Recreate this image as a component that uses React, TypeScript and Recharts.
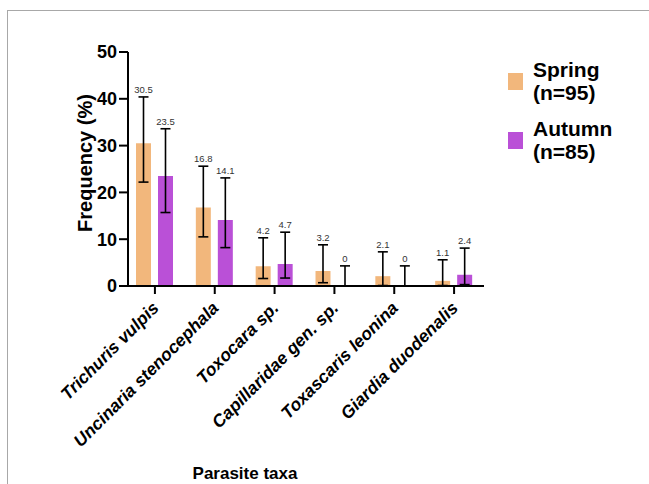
import React from "react";
import { BarChart, Bar, XAxis, YAxis, ErrorBar, LabelList } from "recharts";

const taxa = [
  "Trichuris vulpis",
  "Uncinaria stenocephala",
  "Toxocara sp.",
  "Capillaridae gen. sp.",
  "Toxascaris leonina",
  "Giardia duodenalis",
];

// prevalence (%) with 95% CI bounds
const springMean = [30.5, 16.8, 4.2, 3.2, 2.1, 1.1];
const springLow = [22.2, 10.5, 1.6, 0.7, 0.1, 0.1];
const springHigh = [40.4, 25.6, 10.3, 8.8, 7.3, 5.6];

const autumnMean = [23.5, 14.1, 4.7, 0, 0, 2.4];
const autumnLow = [15.7, 8.2, 1.7, 0, 0, 0.3];
const autumnHigh = [33.6, 23.1, 11.5, 4.3, 4.3, 8.1];

const yTicks = [0, 10, 20, 30, 40, 50];

const seriesNames = ["Spring", "Autumn"];
const seriesN = ["(n=95)", "(n=85)"];
const seriesColors = ["#F2B77C", "#BA50D7"];

const FONT = '"Liberation Sans", Arial, sans-serif';

// the invisible "pad" bar runs from the mean up to the upper CI bound;
// the error bar hangs from its top down to the lower bound
const data = taxa.map((name, i) => ({
  name,
  springMean: springMean[i],
  springPad: springHigh[i] - springMean[i],
  springErr: [springHigh[i] - springLow[i], 0],
  autumnMean: autumnMean[i],
  autumnPad: autumnHigh[i] - autumnMean[i],
  autumnErr: [autumnHigh[i] - autumnLow[i], 0],
}));

function TaxonTick(props: any) {
  const { x, y, payload } = props;
  const px = x + 5;
  const py = y + 13;
  return (
    <text
      x={px}
      y={py}
      textAnchor="end"
      transform={`rotate(-45, ${px}, ${py})`}
      fontFamily={FONT}
      fontSize={17.5}
      fontWeight="bold"
      fontStyle="italic"
      fill="#000"
    >
      {payload.value}
    </text>
  );
}

const axisLine = { stroke: "#000", strokeWidth: 2 };
const valueStyle = { fontFamily: FONT, fontSize: 9.5 };

export default function App() {
  return (
    <div style={{ position: "absolute", left: 0, top: 0, width: 649, height: 484, overflow: "hidden", background: "#fff" }}>
      <div
        style={{
          position: "absolute",
          left: 7,
          top: 10,
          width: 700,
          height: 600,
          borderLeft: "1px solid #a8a8a8",
          borderTop: "1px solid #a8a8a8",
        }}
      />
      <div style={{ position: "absolute", left: 0, top: 0 }}>
        <BarChart
          width={649}
          height={484}
          data={data}
          margin={{ top: 52, right: 165, bottom: 28, left: 58 }}
          barSize={15}
          barGap={7}
        >
          <XAxis
            dataKey="name"
            height={170}
            tick={<TaxonTick />}
            tickSize={8}
            tickLine={axisLine}
            axisLine={axisLine}
            interval={0}
            padding={{ left: -3, right: 0 }}
          />
          <YAxis
            width={70}
            domain={[0, 50]}
            ticks={yTicks}
            tickSize={9}
            tickMargin={2}
            tickLine={axisLine}
            axisLine={axisLine}
            tick={{ fontFamily: FONT, fontSize: 18, fontWeight: "bold", fill: "#000" }}
          />
          <Bar dataKey="springMean" stackId="spring" fill={seriesColors[0]} isAnimationActive={false} />
          <Bar dataKey="springPad" stackId="spring" fill="transparent" isAnimationActive={false}>
            <ErrorBar dataKey="springErr" width={5} stroke="#000" strokeWidth={1.6} direction="y" />
            <LabelList dataKey="springMean" position="top" offset={4} fill="#333" style={valueStyle} />
          </Bar>
          <Bar dataKey="autumnMean" stackId="autumn" fill={seriesColors[1]} isAnimationActive={false} />
          <Bar dataKey="autumnPad" stackId="autumn" fill="transparent" isAnimationActive={false}>
            <ErrorBar dataKey="autumnErr" width={5} stroke="#000" strokeWidth={1.6} direction="y" />
            <LabelList dataKey="autumnMean" position="top" offset={4} fill="#333" style={valueStyle} />
          </Bar>
        </BarChart>
      </div>

      <div
        style={{
          position: "absolute",
          left: 85,
          top: 163,
          transform: "translate(-50%, -50%) rotate(-90deg)",
          fontFamily: FONT,
          fontSize: 20,
          fontWeight: "bold",
          whiteSpace: "nowrap",
          color: "#000",
        }}
      >
        Frequency (%)
      </div>

      <div
        style={{
          position: "absolute",
          left: 245,
          top: 474,
          transform: "translate(-50%, -50%)",
          fontFamily: FONT,
          fontSize: 17,
          fontWeight: "bold",
          whiteSpace: "nowrap",
          color: "#000",
        }}
      >
        Parasite taxa
      </div>

      <div style={{ position: "absolute", left: 508, top: 58, display: "flex", flexDirection: "column", gap: 13 }}>
        {seriesNames.map((name, i) => (
          <div key={name} style={{ display: "flex", alignItems: "center" }}>
            <div style={{ width: 15, height: 17, background: seriesColors[i], marginRight: 10 }} />
            <div style={{ fontFamily: FONT, fontSize: 21, fontWeight: "bold", lineHeight: "23px", color: "#000" }}>
              <div>{name}</div>
              <div>{seriesN[i]}</div>
            </div>
          </div>
        ))}
      </div>
    </div>
  );
}
